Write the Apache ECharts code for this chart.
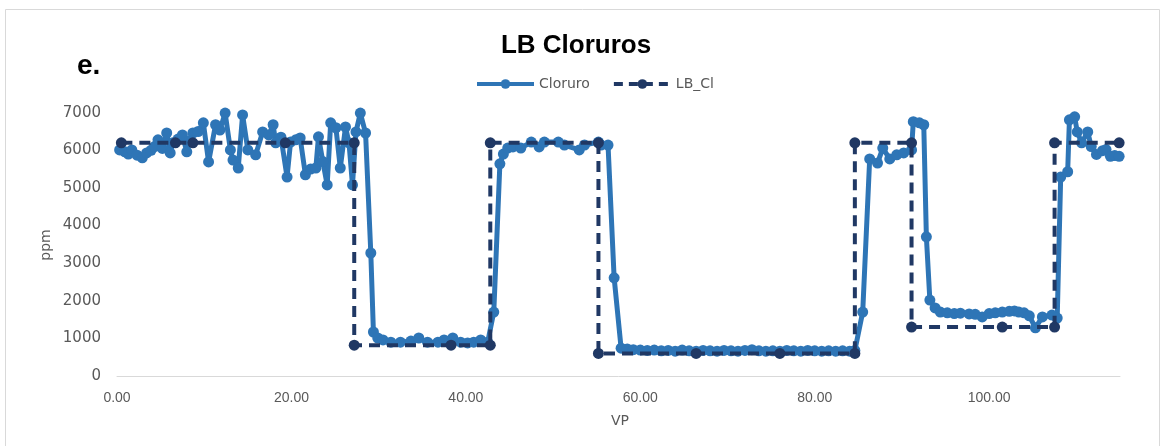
<!DOCTYPE html>
<html>
<head>
<meta charset="utf-8">
<script src="https://cdn.jsdelivr.net/npm/echarts@6/dist/echarts.min.js"></script>
<style>html,body{margin:0;padding:0;background:#fff}#c{width:1163px;height:446px}</style>
</head>
<body>
<div id="c"></div>
<script>
// Cloruro series (VP, ppm)
var cloruroX = [0.3,0.9,1.3,1.7,2.3,2.9,3.4,3.9,4.3,4.7,5.2,5.7,6.1,6.4,7.0,7.5,8.0,8.3,8.7,9.3,9.9,10.5,11.3,11.8,12.4,13.0,13.3,13.9,14.4,15.0,15.9,16.7,17.4,17.9,18.2,18.8,19.5,19.9,20.5,21.0,21.6,22.2,22.8,23.1,23.6,24.1,24.5,25.1,25.6,26.2,26.6,27.0,27.4,27.9,28.5,29.1,29.4,29.9,30.5,31.4,32.5,33.7,34.6,35.6,36.8,37.5,38.5,39.4,40.2,40.9,41.7,42.5,43.2,43.9,44.3,44.8,45.4,46.3,47.5,48.4,49.0,50.6,51.3,53.0,53.6,55.2,55.5,56.3,57.0,57.8,58.5,59.2,60.0,60.8,61.6,62.4,63.2,64.0,64.8,65.6,66.4,67.2,68.0,68.8,69.6,70.4,71.2,72.0,72.8,73.6,74.4,75.2,76.0,76.8,77.6,78.4,79.2,80.0,80.8,81.6,82.4,83.2,84.0,84.6,85.5,86.3,87.2,87.8,88.6,89.4,90.2,91.1,91.3,92.0,92.5,92.8,93.2,93.8,94.4,95.2,96.0,96.7,97.7,98.4,99.2,100.0,100.7,101.5,102.3,102.9,103.4,104.0,104.6,105.3,106.1,107.2,107.8,108.2,109.0,109.2,109.8,110.1,110.6,111.3,111.7,112.3,113.0,113.4,113.9,114.4,114.9];
var cloruroY = [6010,5960,5900,6010,5870,5800,5930,6000,6100,6280,6050,6460,5930,6200,6300,6410,5960,6250,6460,6500,6730,5690,6680,6540,6990,6010,5740,5530,6940,6010,5880,6490,6410,6680,6200,6350,5290,6220,6280,6330,5350,5500,5530,6360,5700,5080,6730,6600,5530,6620,6200,5080,6490,6990,6460,3270,1170,1010,960,900,900,930,1010,900,900,960,1010,900,880,900,960,900,1700,5640,5900,6060,6090,6060,6220,6090,6220,6220,6140,6010,6140,6220,6140,6140,2610,740,720,700,690,680,690,670,680,660,690,670,660,680,670,660,680,670,660,680,700,670,660,670,660,680,670,660,680,670,660,670,660,670,660,680,1700,5770,5660,6060,5770,5880,5930,6010,6760,6730,6680,3700,2020,1810,1700,1680,1660,1670,1650,1640,1570,1660,1680,1700,1720,1730,1700,1680,1600,1280,1570,1620,1540,5290,5430,6810,6890,6490,6200,6490,6100,5890,5990,6020,5840,5860,5840];
// LB_Cl series (VP, ppm)
var lbX = [0.5,6.7,8.7,19.3,27.2,27.2,38.3,42.8,42.8,55.2,55.2,66.4,76.0,84.6,84.6,91.1,91.1,101.5,107.5,107.5,114.9];
var lbY = [6200,6200,6200,6200,6200,820,820,820,6200,6200,600,600,600,600,6200,6200,1300,1300,1300,6200,6200];
var xTicks = [0,20,40,60,80,100];
var yTicks = [0,1000,2000,3000,4000,5000,6000,7000];

var chart = echarts.init(document.getElementById('c'), null, {renderer:'canvas'});
var labelColor = '#595959';
chart.setOption({
  animation:false,
  backgroundColor:'#ffffff',
  grid:{left:117, right:43, top:112.7, bottom:70, containLabel:false},
  legend:{
    top:72, left:470, itemWidth:57, itemHeight:12, itemGap:22,
    textStyle:{color:labelColor, fontSize:14, fontFamily:'DejaVu Sans'},
    data:[
      {name:'Cloruro', lineStyle:{width:4}},
      {name:'LB_Cl', lineStyle:{width:4, type:[9,6]}}
    ]
  },
  xAxis:{
    type:'value', min:0, max:115, interval:20,
    axisLine:{show:true, lineStyle:{color:'#D9D9D9', width:1}},
    axisTick:{show:false}, splitLine:{show:false},
    axisLabel:{color:labelColor, fontSize:14, fontFamily:'Liberation Sans Narrow, Liberation Sans', margin:15, showMaxLabel:false,
      formatter:function(v){return xTicks.indexOf(v)>=0 ? v.toFixed(2) : '';}}
  },
  yAxis:{
    type:'value', min:yTicks[0], max:yTicks[yTicks.length-1], interval:1000,
    axisLine:{show:false}, axisTick:{show:false}, splitLine:{show:false},
    axisLabel:{color:labelColor, fontSize:15, fontFamily:'DejaVu Sans', margin:16,
      formatter:function(v){return String(v);}}
  },
  graphic:[
    {type:'rect', shape:{x:5.5,y:9.5,width:1154,height:450}, style:{fill:'none', stroke:'#D9D9D9', lineWidth:1}, silent:true},
    {type:'text', x:576, y:46, style:{text:'LB Cloruros', font:'bold 26px "Liberation Sans", Arial', fill:'#000', textAlign:'center', textVerticalAlign:'middle'}},
    {type:'text', x:77, y:66, style:{text:'e.', font:'bold 28px "Liberation Sans", Arial', fill:'#000', textAlign:'left', textVerticalAlign:'middle'}},
    {type:'text', x:620, y:421, style:{text:'VP', font:'14px "DejaVu Sans"', fill:labelColor, textAlign:'center', textVerticalAlign:'middle'}},
    {type:'text', x:46, y:245, rotation:Math.PI/2, style:{text:'ppm', font:'14px "DejaVu Sans"', fill:labelColor, textAlign:'center', textVerticalAlign:'middle'}}
  ],
  series:[
    {
      name:'Cloruro', type:'line', z:2,
      data:cloruroX.map(function(x,i){return [x, cloruroY[i]];}),
      symbol:'circle', symbolSize:11, showAllSymbol:true,
      lineStyle:{color:'#2E75B6', width:5},
      itemStyle:{color:'#2E75B6'}
    },
    {
      name:'LB_Cl', type:'line', z:3,
      data:lbX.map(function(x,i){return [x, lbY[i]];}),
      symbol:'circle', symbolSize:11, showAllSymbol:true,
      lineStyle:{color:'#203864', width:4, type:[11,7]},
      itemStyle:{color:'#203864'}
    }
  ]
});
</script>
</body>
</html>
